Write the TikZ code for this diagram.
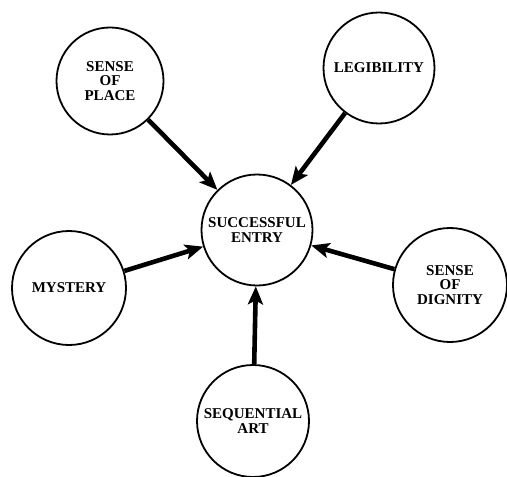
\documentclass[tikz,border=0pt]{standalone}
\usepackage{fontspec}
\setmainfont{Liberation Serif}
\usetikzlibrary{arrows.meta, positioning}

\begin{document}
\begin{tikzpicture}[
  x=1bp, y=-1bp,
  circ/.style={circle, draw, line width=1.8bp, minimum size=111bp, inner sep=0pt,
               align=center, font=\fontsize{15bp}{14.5bp}\selectfont\bfseries},
  arr/.style={-{Stealth[length=18bp, width=15bp, inset=4bp]}, line width=4.6bp}
]
\useasboundingbox (0,0) rectangle (507,477);

\node[circ] (entry) at (257,230) {SUCCESSFUL\\ENTRY};
\node[circ, minimum size=107bp] (place) at (110,81) {SENSE\\OF\\PLACE};
\node[circ] (legib) at (379,68) {LEGIBILITY};
\node[circ, minimum size=114bp] (myst) at (69,288) {MYSTERY};
\node[circ, minimum size=114bp] (dign) at (450,285) {SENSE\\OF\\DIGNITY};
\node[circ, minimum size=112bp] (seq) at (253,421) {SEQUENTIAL\\ART};

\draw[arr] (place) -- (entry);
\draw[arr] (legib) -- (entry);
\draw[arr] (myst) -- (entry);
\draw[arr] (dign) -- (entry);
\draw[arr] (seq) -- (entry);
\end{tikzpicture}
\end{document}
